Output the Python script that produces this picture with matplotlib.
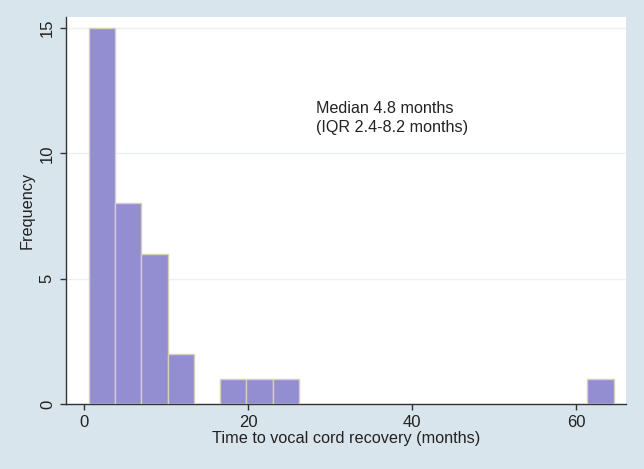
import matplotlib
matplotlib.use("Agg")
from matplotlib import pyplot as plt
import numpy as np

# Histogram bins (months) and counts
bin_start = 0.6
bin_width = 3.2
counts = [15, 8, 6, 2, 0, 1, 1, 1, 0, 0, 0, 0, 0, 0, 0, 0, 0, 0, 0, 1]
x_ticks = [0, 20, 40, 60]
y_ticks = [0, 5, 10, 15]
note = "Median 4.8 months\n(IQR 2.4-8.2 months)"

plt.rcParams['font.family'] = ['Liberation Sans', 'DejaVu Sans']

bg = "#d9e5ec"
fig = plt.figure(figsize=(6.44, 4.69), dpi=100, facecolor=bg)
ax = fig.add_axes([66 / 644, 1 - 404 / 469, 560 / 644, 387 / 469])
ax.set_facecolor("white")

edges = bin_start + bin_width * np.arange(len(counts) + 1)
ax.hist(edges[:-1], bins=edges, weights=counts, color="#938dd2",
        edgecolor="#d8d0b6", linewidth=1, zorder=3)

ax.set_xlim(-2.2, 66.1)
ax.set_ylim(0, 15.44)
ax.set_xticks(x_ticks)
ax.set_yticks(y_ticks)
ax.set_yticklabels([str(v) for v in y_ticks], rotation=90, va="center")
ax.grid(axis="y", color="#eaf0f4", linewidth=1, zorder=0)

for side in ["top", "right"]:
    ax.spines[side].set_visible(False)
for side in ["left", "bottom"]:
    ax.spines[side].set_color("#333333")
    ax.spines[side].set_linewidth(1)
ax.tick_params(direction="out", length=4, width=1, color="#333333",
               labelsize=12, labelcolor="#222222", pad=4)

ax.set_xlabel("Time to vocal cord recovery (months)", fontsize=11.7,
              color="#222222", labelpad=1)
ax.set_ylabel("Frequency", fontsize=11.7, color="#222222", labelpad=4)

ax.text(28.3, 11.4, note, fontsize=11.6, color="#222222", va="center",
        ha="left", linespacing=1.3)

fig.savefig("out.png", dpi=100, facecolor=bg)
